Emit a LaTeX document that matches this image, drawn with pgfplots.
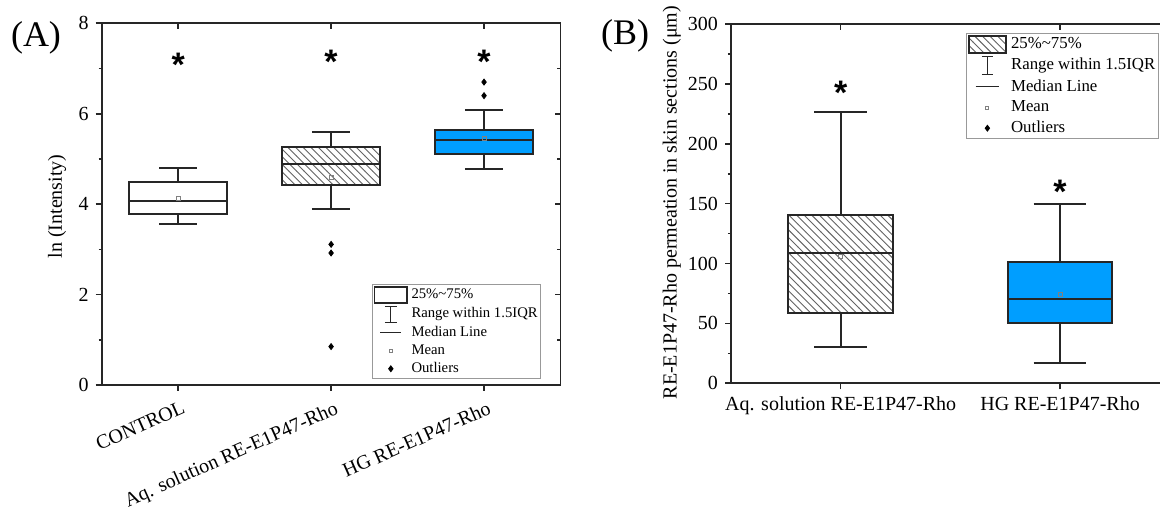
\documentclass[border=0pt]{standalone}
\usepackage{fontspec}
\setmainfont{Liberation Serif}
\newfontfamily\starfont{Liberation Sans}
\usepackage{pgfplots}
\pgfplotsset{compat=1.18}
\usetikzlibrary{patterns}

\definecolor{hgblue}{RGB}{0,158,255}
\definecolor{boxline}{RGB}{38,38,38}
\definecolor{hatchgray}{RGB}{100,100,100}

% back-slanted hatching, a little wider than "north west lines"
\pgfdeclarepatternformonly{widenwlines}{\pgfqpoint{-1pt}{-1pt}}{\pgfqpoint{4.8pt}{4.8pt}}{\pgfqpoint{3.8pt}{3.8pt}}{
  \pgfsetlinewidth{0.45pt}
  \pgfpathmoveto{\pgfqpoint{0pt}{3.8pt}}
  \pgfpathlineto{\pgfqpoint{3.9pt}{-0.1pt}}
  \pgfusepath{stroke}
}

\tikzset{
  sigstar/.style={font=\starfont\bfseries\fontsize{17}{17}\selectfont,
    anchor=base, yshift=-8pt, inner sep=0pt},
}

\pgfplotsset{
  myframe/.style={
    scale only axis,
    axis line style={line width=0.8pt, black!85},
    every tick/.style={line width=0.8pt, black!85},
    major tick length=3pt, minor tick length=1.6pt,
    /pgf/number format/assume math mode=true,
    tick label style={font=\fontsize{10}{12}\selectfont},
    label style={font=\fontsize{10}{12}\selectfont},
  },
  mirrorticks/.style={
    myframe, tick align=inside, xtick pos=right, ytick pos=right,
    xticklabels={}, yticklabels={},
  },
  whisk/.style={draw=boxline, line width=1pt, forget plot, mark=none},
  boxbody/.style={draw=boxline, line width=1pt, forget plot, mark=none, line join=miter, fill=#1},
  hatchbody/.style={draw=none, forget plot, mark=none, pattern=widenwlines, pattern color=hatchgray},
  meanmark/.style={only marks, forget plot, mark=square, mark size=1pt,
    mark options={draw=gray, line width=0.4pt, fill=none}},
  outliermark/.style={only marks, forget plot, mark=diamond*, mark size=1.5pt,
    mark options={black, fill=black}},
}

\begin{document}
\begin{tikzpicture}
\useasboundingbox (0pt,0pt) rectangle (580pt,256.5pt);

% ---------------- Panel (A) ----------------
\node[font=\fontsize{18}{18}\selectfont] at (18pt,237.5pt) {(A)};

\begin{axis}[mirrorticks, at={(50.85pt,64pt)}, anchor=south west,
  width=229.4pt, height=180.85pt,
  xmin=0.5, xmax=3.5, ymin=0, ymax=8,
  xtick={1,2,3}, ytick={0,2,...,8}, minor ytick={1,3,5,7}]
\end{axis}

\begin{axis}[myframe, at={(50.85pt,64pt)}, anchor=south west,
  width=229.4pt, height=180.85pt,
  xmin=0.5, xmax=3.5, ymin=0, ymax=8,
  tick align=outside, xtick pos=left, ytick pos=left,
  xtick={1,2,3},
  xticklabels={CONTROL, Aq. solution RE-E1P47-Rho, HG RE-E1P47-Rho},
  xticklabel style={xshift=3pt, rotate=24, anchor=north east},
  ytick={0,2,...,8}, minor ytick={1,3,5,7},
  ylabel={ln (Intensity)},
  ylabel style={at={(axis description cs:-0.0974,0.4935)}, anchor=center},
  legend style={at={(0.957,0.279)}, anchor=north east,
    draw=gray!80, line width=0.5pt, fill=white, inner sep=0.7pt,
    font=\fontsize{7.35}{8}\selectfont, nodes={inner sep=0.6pt},
    row sep=1pt, column sep=1.2pt},
  legend cell align=left,
]
% CONTROL: whiskers 3.55/4.80, quartiles 3.79/4.49, median 4.07
\addplot[whisk] coordinates {(1,3.55) (1,3.79)};
\addplot[whisk] coordinates {(1,4.49) (1,4.80)};
\addplot[whisk] coordinates {(0.875,3.55) (1.125,3.55)};
\addplot[whisk] coordinates {(0.875,4.80) (1.125,4.80)};
\addplot[boxbody=white] coordinates {(0.68,3.79) (1.32,3.79) (1.32,4.49) (0.68,4.49)} -- cycle;
\addplot[whisk] coordinates {(0.68,4.07) (1.32,4.07)};
% Aq. solution: whiskers 3.90/5.60, quartiles 4.43/5.26, median 4.88
\addplot[whisk] coordinates {(2,3.90) (2,4.43)};
\addplot[whisk] coordinates {(2,5.26) (2,5.60)};
\addplot[whisk] coordinates {(1.875,3.90) (2.125,3.90)};
\addplot[whisk] coordinates {(1.875,5.60) (2.125,5.60)};
\addplot[boxbody=white] coordinates {(1.68,4.43) (2.32,4.43) (2.32,5.26) (1.68,5.26)} -- cycle;
\addplot[hatchbody] coordinates {(1.68,4.43) (2.32,4.43) (2.32,5.26) (1.68,5.26)} -- cycle;
\addplot[boxbody=none] coordinates {(1.68,4.43) (2.32,4.43) (2.32,5.26) (1.68,5.26)} -- cycle;
\addplot[whisk] coordinates {(1.68,4.88) (2.32,4.88)};
% HG: whiskers 4.77/6.09, quartiles 5.11/5.63, median 5.41
\addplot[whisk] coordinates {(3,4.77) (3,5.11)};
\addplot[whisk] coordinates {(3,5.63) (3,6.09)};
\addplot[whisk] coordinates {(2.875,4.77) (3.125,4.77)};
\addplot[whisk] coordinates {(2.875,6.09) (3.125,6.09)};
\addplot[boxbody=hgblue] coordinates {(2.68,5.11) (3.32,5.11) (3.32,5.63) (2.68,5.63)} -- cycle;
\addplot[whisk] coordinates {(2.68,5.41) (3.32,5.41)};
% means and outliers
\addplot[meanmark] coordinates {(1,4.12) (2,4.60) (3,5.46)};
\addplot[outliermark] coordinates {(2,3.11) (2,2.92) (2,0.85) (3,6.70) (3,6.40)};
% significance marks
\node[sigstar] at (axis cs:1,7.18) {*};
\node[sigstar] at (axis cs:2,7.24) {*};
\node[sigstar] at (axis cs:3,7.24) {*};

\addlegendimage{legend image code/.code={
  \path[draw=none, fill=none] (0pt,-4pt) rectangle (16.3pt,4pt);
  \draw[boxline, line width=0.8pt, fill=white] (0pt,-4pt) rectangle (16.3pt,4pt);}}
\addlegendentry{25\%\textasciitilde75\%}
\addlegendimage{legend image code/.code={
  \path[draw=none, fill=none] (0pt,-4pt) rectangle (16.3pt,4pt);
  \draw[boxline, line width=0.6pt] (8.15pt,-4pt) -- (8.15pt,4pt)
    (5.15pt,-4pt) -- (11.15pt,-4pt) (5.15pt,4pt) -- (11.15pt,4pt);}}
\addlegendentry{Range within 1.5IQR}
\addlegendimage{legend image code/.code={
  \path[draw=none, fill=none] (0pt,-4pt) rectangle (16.3pt,4pt);
  \draw[boxline, line width=0.6pt] (2.9pt,0pt) -- (13.4pt,0pt);}}
\addlegendentry{Median Line}
\addlegendimage{legend image code/.code={
  \path[draw=none, fill=none] (0pt,-4pt) rectangle (16.3pt,4pt);
  \draw[gray, line width=0.4pt] (7.4pt,-0.75pt) rectangle (8.9pt,0.75pt);}}
\addlegendentry{Mean}
\addlegendimage{legend image code/.code={
  \path[draw=none, fill=none] (0pt,-4pt) rectangle (16.3pt,4pt);
  \fill[black] (8.15pt,1.4pt) -- (9.2pt,0pt) -- (8.15pt,-1.4pt) -- (7.1pt,0pt) -- cycle;}}
\addlegendentry{Outliers}
\end{axis}

% ---------------- Panel (B) ----------------
\node[font=\fontsize{18}{18}\selectfont] at (312.5pt,238.5pt) {(B)};

\begin{axis}[mirrorticks, at={(365.5pt,64.85pt)}, anchor=south west,
  width=219.35pt, height=179.65pt,
  xmin=0.5, xmax=2.5, ymin=0, ymax=300,
  xtick={1,2}, ytick={0,50,...,300}, minor ytick={25,75,...,275}]
\end{axis}

\begin{axis}[myframe, at={(365.5pt,64.85pt)}, anchor=south west,
  width=219.35pt, height=179.65pt,
  xmin=0.5, xmax=2.5, ymin=0, ymax=300,
  tick align=outside, xtick pos=left, ytick pos=left,
  xtick={1,2},
  xticklabels={Aq. solution RE-E1P47-Rho, HG RE-E1P47-Rho},
  ytick={0,50,...,300}, minor ytick={25,75,...,275},
  ylabel={RE-E1P47-Rho permeation in skin sections (μm)},
  ylabel style={at={(axis description cs:-0.135,0.503)}, anchor=center},
  legend style={at={(0.976,0.974)}, anchor=north east,
    draw=gray!80, line width=0.5pt, fill=white, inner sep=0.7pt,
    font=\fontsize{8.4}{9}\selectfont, nodes={inner sep=1pt},
    row sep=1.2pt, column sep=1.2pt},
  legend cell align=left,
]
% Aq. solution: whiskers 30.6/226.8, quartiles 58.4/140.5, median 108.5
\addplot[whisk] coordinates {(1,30.6) (1,58.4)};
\addplot[whisk] coordinates {(1,140.5) (1,226.8)};
\addplot[whisk] coordinates {(0.88,30.6) (1.12,30.6)};
\addplot[whisk] coordinates {(0.88,226.8) (1.12,226.8)};
\addplot[boxbody=white] coordinates {(0.761,58.4) (1.239,58.4) (1.239,140.5) (0.761,140.5)} -- cycle;
\addplot[hatchbody] coordinates {(0.761,58.4) (1.239,58.4) (1.239,140.5) (0.761,140.5)} -- cycle;
\addplot[boxbody=none] coordinates {(0.761,58.4) (1.239,58.4) (1.239,140.5) (0.761,140.5)} -- cycle;
\addplot[whisk] coordinates {(0.761,108.5) (1.239,108.5)};
% HG: whiskers 16.7/149.7, quartiles 50.1/101.5, median 70.1
\addplot[whisk] coordinates {(2,16.7) (2,50.1)};
\addplot[whisk] coordinates {(2,101.5) (2,149.7)};
\addplot[whisk] coordinates {(1.88,16.7) (2.12,16.7)};
\addplot[whisk] coordinates {(1.88,149.7) (2.12,149.7)};
\addplot[boxbody=hgblue] coordinates {(1.761,50.1) (2.239,50.1) (2.239,101.5) (1.761,101.5)} -- cycle;
\addplot[whisk] coordinates {(1.761,70.1) (2.239,70.1)};
\addplot[meanmark] coordinates {(1,106.3) (2,74.0)};
% significance marks
\node[sigstar] at (axis cs:1,246.3) {*};
\node[sigstar] at (axis cs:2,163.3) {*};

\addlegendimage{legend image code/.code={
  \path[draw=none, fill=none] (0pt,-4.25pt) rectangle (18.5pt,4.25pt);
  \fill[white] (0pt,-4.25pt) rectangle (18.5pt,4.25pt);
  \fill[pattern=widenwlines, pattern color=hatchgray] (0pt,-4.25pt) rectangle (18.5pt,4.25pt);
  \draw[boxline, line width=0.8pt] (0pt,-4.25pt) rectangle (18.5pt,4.25pt);}}
\addlegendentry{25\%\textasciitilde75\%}
\addlegendimage{legend image code/.code={
  \path[draw=none, fill=none] (0pt,-4.25pt) rectangle (18.5pt,4.25pt);
  \draw[boxline, line width=0.6pt] (9.25pt,-4.4pt) -- (9.25pt,4.4pt)
    (6.5pt,-4.4pt) -- (12pt,-4.4pt) (6.5pt,4.4pt) -- (12pt,4.4pt);}}
\addlegendentry{Range within 1.5IQR}
\addlegendimage{legend image code/.code={
  \path[draw=none, fill=none] (0pt,-4.25pt) rectangle (18.5pt,4.25pt);
  \draw[boxline, line width=0.6pt] (3.4pt,0pt) -- (15.1pt,0pt);}}
\addlegendentry{Median Line}
\addlegendimage{legend image code/.code={
  \path[draw=none, fill=none] (0pt,-4.25pt) rectangle (18.5pt,4.25pt);
  \draw[gray, line width=0.4pt] (8.5pt,-0.75pt) rectangle (10pt,0.75pt);}}
\addlegendentry{Mean}
\addlegendimage{legend image code/.code={
  \path[draw=none, fill=none] (0pt,-4.25pt) rectangle (18.5pt,4.25pt);
  \fill[black] (9.25pt,1.4pt) -- (10.3pt,0pt) -- (9.25pt,-1.4pt) -- (8.2pt,0pt) -- cycle;}}
\addlegendentry{Outliers}
\end{axis}
\end{tikzpicture}
\end{document}
